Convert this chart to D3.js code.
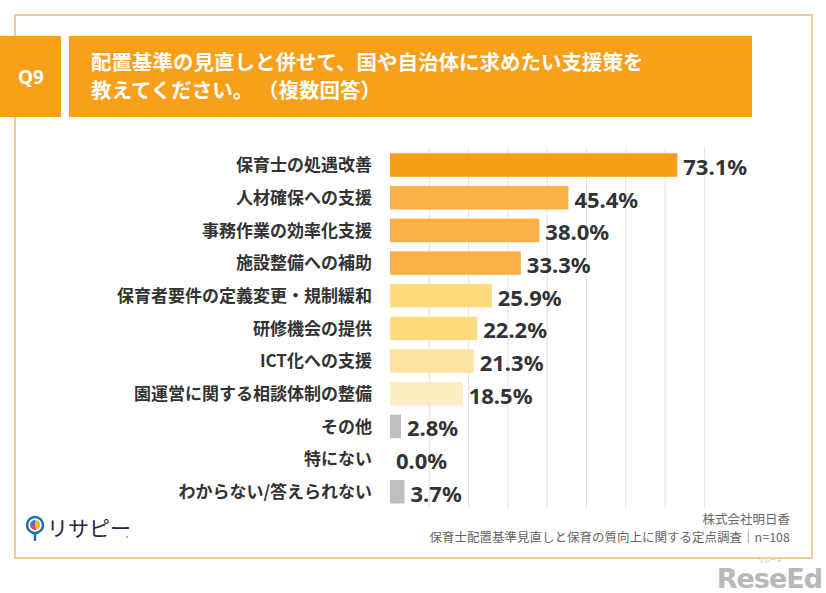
<!DOCTYPE html>
<html><head><meta charset="utf-8">
<script src="https://cdn.jsdelivr.net/npm/d3@7"></script>
<style>
html,body{margin:0;padding:0;background:#fff;}
svg{display:block;}
svg text{text-spacing-trim:space-all;font-feature-settings:"palt" 0;}
</style></head>
<body>
<svg id="chart" width="826" height="593"></svg>
<script>
const categories = ["保育士の処遇改善","人材確保への支援","事務作業の効率化支援","施設整備への補助","保育者要件の定義変更・規制緩和","研修機会の提供","ICT化への支援","園運営に関する相談体制の整備","その他","特にない","わからない/答えられない"];
const values = [73.1,45.4,38.0,33.3,25.9,22.2,21.3,18.5,2.8,0.0,3.7];
const barColors = ["#f89d17","#fbb146","#fbb146","#fbb146","#fddc7e","#fddc7e","#fee3a0","#feedc2","#bfbfbf","#bfbfbf","#bfbfbf"];
const gridTicks = [0,10,20,30,40,50,60,70,80];
const titleLines = ["配置基準の見直しと併せて、国や自治体に求めたい支援策を","教えてください。 （複数回答）"];
const qLabel = "Q9";
const footerLines = ["株式会社明日香","保育士配置基準見直しと保育の質向上に関する定点調査｜n=108"];

const svg = d3.select("#chart");
const JP = "'Noto Sans CJK JP','Noto Sans',sans-serif";

// frame
svg.append("rect").attr("x",15).attr("y",15).attr("width",797).attr("height",543)
  .attr("fill","none").attr("stroke","#ecc070").attr("stroke-width",1.5);

// header boxes
svg.append("rect").attr("x",0).attr("y",36).attr("width",61).attr("height",81).attr("fill","#f8a01a");
svg.append("rect").attr("x",69).attr("y",36).attr("width",683).attr("height",81).attr("fill","#f8a01a");
svg.append("text").attr("x",31).attr("y",84).attr("text-anchor","middle")
  .attr("font-family","'Noto Sans',sans-serif").attr("font-weight","bold").attr("font-size",19)
  .attr("fill","#fff").text(qLabel);
svg.append("g").selectAll("text").data(titleLines).join("text")
  .attr("x",91).attr("y",(d,i)=>70+i*27.5)
  .attr("font-family",JP).attr("font-weight","bold").attr("font-size",20.5)
  .attr("fill","#fff").text(d=>d);

// scales
const x = d3.scaleLinear().domain([0,80]).range([390,704.4]);
const y = d3.scaleBand().domain(categories).range([148.7,508.1]).paddingInner(0.28).paddingOuter(0.14);

// grid
svg.append("g").selectAll("line").data(gridTicks.slice(1)).join("line")
  .attr("x1",d=>x(d)).attr("x2",d=>x(d)).attr("y1",y.range()[0]-2).attr("y2",y.range()[1])
  .attr("stroke","#e3e3e3").attr("stroke-width",1);

// bars
svg.append("g").selectAll("rect").data(values).join("rect")
  .attr("x",x(0)).attr("y",(d,i)=>y(categories[i]))
  .attr("width",d=>x(d)-x(0)).attr("height",y.bandwidth())
  .attr("fill",(d,i)=>barColors[i]);

// category labels
svg.append("g").selectAll("text").data(categories).join("text")
  .attr("x",372).attr("y",d=>y(d)+y.bandwidth()/2).attr("dy","0.36em")
  .attr("text-anchor","end").attr("font-family",JP).attr("font-weight","bold")
  .attr("font-size",17).attr("fill","#333").text(d=>d);

// value labels
svg.append("g").selectAll("text").data(values).join("text")
  .attr("x",d=>x(d)+6).attr("y",(d,i)=>y(categories[i])+y.bandwidth()/2+2).attr("dy","0.36em")
  .attr("font-family","'Noto Sans',sans-serif").attr("font-weight","bold")
  .attr("font-size",22).attr("fill","#333").text(d=>d.toFixed(1)+"%");

// footer
svg.append("g").selectAll("text").data(footerLines).join("text")
  .attr("x",790).attr("y",(d,i)=>524+i*17.5).attr("text-anchor","end")
  .attr("font-family",JP).attr("font-size",12.5).attr("fill","#666").text(d=>d);

// logo
const logo = svg.append("g");
logo.append("line").attr("x1",35).attr("x2",35).attr("y1",532).attr("y2",541).attr("stroke","#1f6fb5").attr("stroke-width",2.5);
logo.append("circle").attr("cx",35).attr("cy",525).attr("r",8).attr("fill","#fff").attr("stroke","#1f6fb5").attr("stroke-width",2.5);
const arc = d3.arc().innerRadius(0).outerRadius(5);
const pie = [["#f5b82a",0,Math.PI*0.9],["#e94a5a",Math.PI*0.9,Math.PI*1.5],["#2f7fd0",Math.PI*1.5,Math.PI*2]];
logo.selectAll("path").data(pie).join("path")
  .attr("transform","translate(35,525)")
  .attr("d",d=>arc({startAngle:d[1],endAngle:d[2]})).attr("fill",d=>d[0]);
logo.append("text").attr("x",47).attr("y",536).attr("font-family",JP).attr("font-size",21)
  .attr("fill","#1c2740").text("リサピー");
logo.append("circle").attr("cx",127).attr("cy",537).attr("r",0.9).attr("fill","#888");

// watermark
svg.append("text").attr("x",822).attr("y",588).attr("text-anchor","end")
  .attr("font-family","'DejaVu Sans',sans-serif").attr("font-weight","bold").attr("font-size",27)
  .attr("fill","#b8b8b8").attr("letter-spacing",-1).text("ReseEd");
svg.append("text").attr("x",770).attr("y",562).attr("text-anchor","middle")
  .attr("font-family",JP).attr("font-size",6).attr("fill","#b8b8b8").text("リシード");
</script>
</body></html>
